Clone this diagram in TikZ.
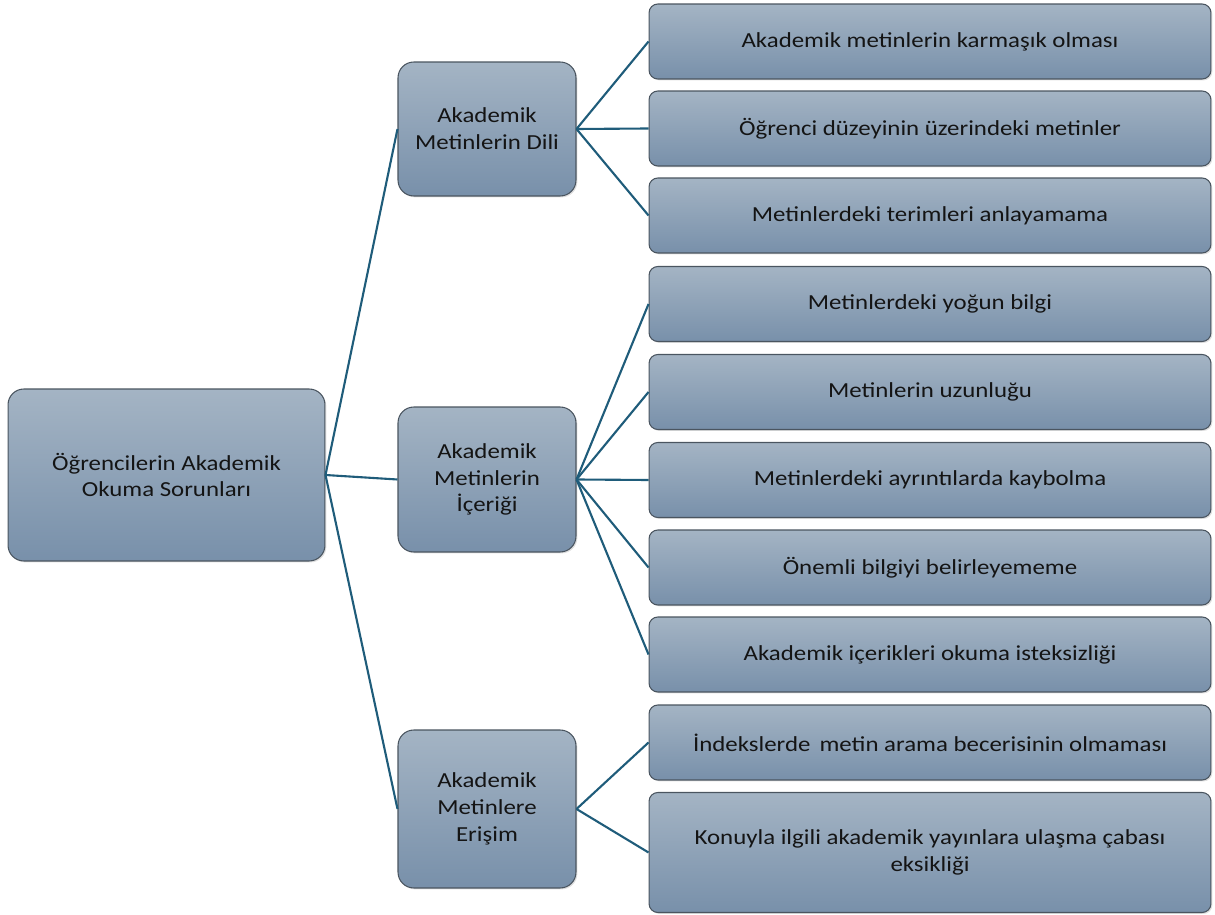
\documentclass[tikz,border=0pt]{standalone}
\usepackage{fontspec}
\setmainfont{Carlito}[FakeStretch=1.16]
\usetikzlibrary{shadows}

\definecolor{boxtop}{HTML}{A4B4C4}
\definecolor{boxbot}{HTML}{7890AA}
\definecolor{boxline}{HTML}{4A5560}
\definecolor{connline}{HTML}{1F5C7A}

\tikzset{
  box/.style={rectangle,rounded corners=9pt,draw=boxline,line width=0.6pt,
    top color=boxtop,bottom color=boxbot,align=center,inner sep=2pt,
    font=\fontsize{12.2}{15.3}\selectfont,text=black!92,
    drop shadow={opacity=0.25,shadow xshift=0.8pt,shadow yshift=-0.8pt}},
  midbox/.style={box,minimum width=3.56cm},
  leafbox/.style={box,rounded corners=5pt,minimum width=11.24cm,minimum height=1.5cm},
  conn/.style={draw=connline,line width=1.2pt}
}

\begin{document}
\begin{tikzpicture}[x=0.02cm,y=-0.02cm]
  \useasboundingbox (0,0) rectangle (1215,915);

  % root
  \node[box,minimum width=6.34cm,minimum height=3.44cm] (root) at (166.5,475)
       {Öğrencilerin Akademik\\Okuma Sorunları};

  % middle level
  \node[midbox,minimum height=2.68cm] (dil)    at (487,129)   {Akademik\\Metinlerin Dili};
  \node[midbox,minimum height=2.9cm]  (icerik) at (487,479.5) {Akademik\\Metinlerin\\İçeriği};
  \node[midbox,minimum height=3.16cm] (erisim) at (487,809)   {Akademik\\Metinlere\\Erişim};

  % leaves
  \node[leafbox] (l1)  at (930,41.5)  {Akademik metinlerin karmaşık olması};
  \node[leafbox] (l2)  at (930,128.5) {Öğrenci düzeyinin üzerindeki metinler};
  \node[leafbox] (l3)  at (930,215.5) {Metinlerdeki terimleri anlayamama};
  \node[leafbox] (l4)  at (930,304)   {Metinlerdeki yoğun bilgi};
  \node[leafbox] (l5)  at (930,392)   {Metinlerin uzunluğu};
  \node[leafbox] (l6)  at (930,480)   {Metinlerdeki ayrıntılarda kaybolma};
  \node[leafbox] (l7)  at (930,567.5) {Önemli bilgiyi belirleyememe};
  \node[leafbox] (l8)  at (930,654.5) {Akademik içerikleri okuma isteksizliği};
  \node[leafbox] (l9)  at (930,742.5) {İndekslerde\, metin arama becerisinin olmaması};
  \node[leafbox,minimum height=2.4cm] (l10) at (930,852.5)
       {Konuyla ilgili akademik yayınlara ulaşma çabası\\eksikliği};

  % connectors
  \foreach \m in {dil,icerik,erisim}
    \draw[conn] (root.east) -- (\m.west);
  \foreach \l in {l1,l2,l3}
    \draw[conn] (dil.east) -- (\l.west);
  \foreach \l in {l4,l5,l6,l7,l8}
    \draw[conn] (icerik.east) -- (\l.west);
  \foreach \l in {l9,l10}
    \draw[conn] (erisim.east) -- (\l.west);
\end{tikzpicture}
\end{document}
